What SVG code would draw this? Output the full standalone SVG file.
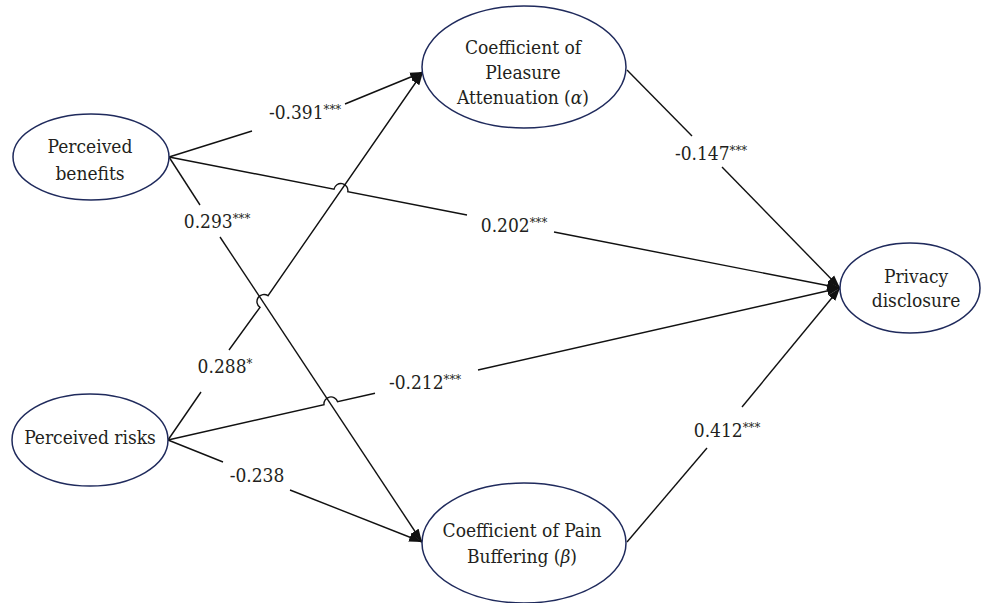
<svg xmlns="http://www.w3.org/2000/svg" width="984" height="603" viewBox="0 0 984 603">
<defs>
<style>
text{font-family:'DejaVu Serif Condensed','DejaVu Serif',serif;font-stretch:condensed;font-size:19px;fill:#231f20;text-anchor:middle}
.node ellipse{fill:#fff;stroke:#1f2a5c;stroke-width:1.5}
.conn path{fill:none;stroke:#111;stroke-width:1.4}
.sup{font-size:13px}
.it{font-style:italic}
</style>
<marker id="arr" markerUnits="userSpaceOnUse" markerWidth="14" markerHeight="10" refX="13" refY="5" orient="auto">
<path d="M0,0.5 L13,5 L0,9.5 z" fill="#111"/>
</marker>
</defs>
<rect width="984" height="603" fill="#fff"/>

<g id="connectors" class="conn">
<path d="M169,157 L252,131"/>
<path d="M345,104 L423,72" marker-end="url(#arr)"/>
<path d="M168,440 L201,392"/>
<path d="M229,350 L260,307.3 A7,7 0 0 1 268,295.7 L423,72" marker-end="url(#arr)"/>
<path d="M169,157 L200,205"/>
<path d="M220,237 L422,542" marker-end="url(#arr)"/>
<path d="M168,440 L223,462"/>
<path d="M290,490 L422,542" marker-end="url(#arr)"/>
<path d="M169,157 L334,189.2 A7,7 0 0 1 347.8,191.8 L467,215"/>
<path d="M554,232 L840,288" marker-end="url(#arr)"/>
<path d="M168,440 L324,404.7 A7,7 0 0 1 337.6,401.7 L375,393.2"/>
<path d="M478,370 L840,288" marker-end="url(#arr)"/>
<path d="M627,70 L692,136"/>
<path d="M722,167 L840,288" marker-end="url(#arr)"/>
<path d="M627,542 L707,448"/>
<path d="M742,407 L840,288" marker-end="url(#arr)"/>
</g>

<g id="labels">
<text x="305" y="119">-0.391<tspan class="sup" dy="-5">***</tspan></text>
<text x="217" y="228">0.293<tspan class="sup" dy="-5">***</tspan></text>
<text x="514" y="232">0.202<tspan class="sup" dy="-5">***</tspan></text>
<text x="711" y="160">-0.147<tspan class="sup" dy="-5">***</tspan></text>
<text x="727" y="437">0.412<tspan class="sup" dy="-5">***</tspan></text>
<text x="225" y="373">0.288<tspan class="sup" dy="-5">*</tspan></text>
<text x="425" y="389">-0.212<tspan class="sup" dy="-5">***</tspan></text>
<text x="257" y="482">-0.238</text>
</g>

<g id="perceived-benefits" class="node">
<ellipse cx="91" cy="157" rx="78" ry="43"/>
<text x="90" y="153">Perceived</text>
<text x="90" y="180">benefits</text>
</g>
<g id="perceived-risks" class="node">
<ellipse cx="90" cy="440" rx="78" ry="46"/>
<text x="90" y="444">Perceived risks</text>
</g>
<g id="pleasure-attenuation" class="node">
<ellipse cx="524" cy="67" rx="102" ry="61"/>
<text x="523" y="54">Coefficient of</text>
<text x="523" y="79">Pleasure</text>
<text x="523" y="104">Attenuation (<tspan class="it">α</tspan>)</text>
</g>
<g id="pain-buffering" class="node">
<ellipse cx="524" cy="543" rx="102" ry="60"/>
<text x="522" y="537">Coefficient of Pain</text>
<text x="522" y="563">Buffering (<tspan class="it">β</tspan>)</text>
</g>
<g id="privacy-disclosure" class="node">
<ellipse cx="910" cy="288" rx="70" ry="45"/>
<text x="916" y="283">Privacy</text>
<text x="916" y="307">disclosure</text>
</g>
</svg>
